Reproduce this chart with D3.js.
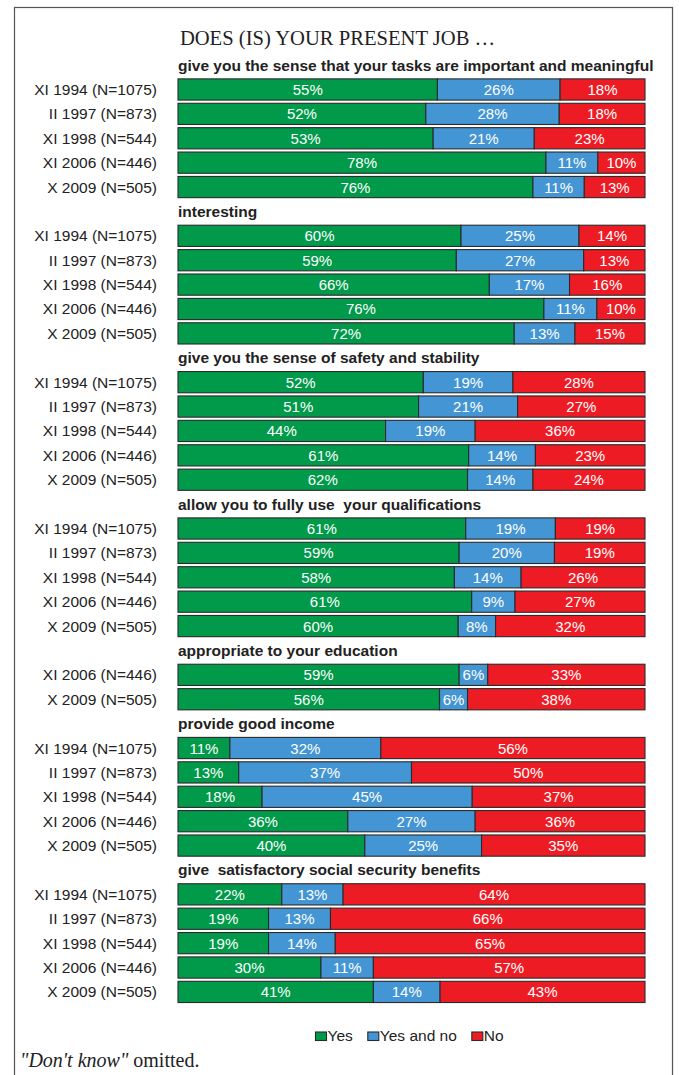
<!DOCTYPE html>
<html>
<head>
<meta charset="utf-8">
<script src="https://cdn.jsdelivr.net/npm/d3@7"></script>
<style>
  html, body { margin: 0; padding: 0; background: #fff; }
  svg { display: block; }
</style>
</head>
<body>
<div id="chart"></div>
<script>
// Survey question wording (one group of bars per question)
const questions = [
  "give you the sense that your tasks are important and meaningful",
  "interesting",
  "give you the sense of safety and stability",
  "allow you to fully use  your qualifications",
  "appropriate to your education",
  "provide good income",
  "give  satisfactory social security benefits"
];

// Survey waves
const waves = ["XI 1994 (N=1075)", "II 1997 (N=873)", "XI 1998 (N=544)", "XI 2006 (N=446)", "X 2009 (N=505)"];

// Which waves asked each question (indices into waves)
const questionWaves = [
  [0, 1, 2, 3, 4],
  [0, 1, 2, 3, 4],
  [0, 1, 2, 3, 4],
  [0, 1, 2, 3, 4],
  [3, 4],
  [0, 1, 2, 3, 4],
  [0, 1, 2, 3, 4]
];

// Answer shares (%), one list per question, in wave order
const yesValues = [
  [55, 52, 53, 78, 76],
  [60, 59, 66, 76, 72],
  [52, 51, 44, 61, 62],
  [61, 59, 58, 61, 60],
  [59, 56],
  [11, 13, 18, 36, 40],
  [22, 19, 19, 30, 41]
];
const yesAndNoValues = [
  [26, 28, 21, 11, 11],
  [25, 27, 17, 11, 13],
  [19, 21, 19, 14, 14],
  [19, 20, 14, 9, 8],
  [6, 6],
  [32, 37, 45, 27, 25],
  [13, 13, 14, 11, 14]
];
const noValues = [
  [18, 18, 23, 10, 13],
  [14, 13, 16, 10, 15],
  [28, 27, 36, 23, 24],
  [19, 19, 26, 27, 32],
  [33, 38],
  [56, 50, 37, 36, 35],
  [64, 66, 65, 57, 43]
];

const answers = ["Yes", "Yes and no", "No"];
const answerColors = ["#009a4a", "#4495d3", "#ed1c24"];

const W = 679, H = 1075;
const barLeft = 178, barRight = 645;
const sans = "'Liberation Sans', Arial, Helvetica, sans-serif";
const serif = "'Liberation Serif', 'Times New Roman', Times, serif";

// Build the vertical slot list: a header slot followed by one slot per wave
const slots = [];
questions.forEach((q, qi) => {
  slots.push({ key: "h" + qi, type: "header", text: q });
  questionWaves[qi].forEach((w, j) => {
    slots.push({
      key: "r" + qi + "_" + w,
      type: "row",
      label: waves[w],
      values: [yesValues[qi][j], yesAndNoValues[qi][j], noValues[qi][j]]
    });
  });
});

const step = 24.39;
const y = d3.scaleBand()
  .domain(slots.map(s => s.key))
  .range([52.9, 52.9 + slots.length * step])
  .paddingInner(0.13)
  .paddingOuter(0.065);

const color = d3.scaleOrdinal().domain(answers).range(answerColors);

const svg = d3.select("#chart").append("svg")
  .attr("width", W).attr("height", H);

// Frame
svg.append("rect")
  .attr("x", 14.5).attr("y", 7.5)
  .attr("width", 658).attr("height", 1080)
  .attr("fill", "none").attr("stroke", "#555").attr("stroke-width", 1.2);

// Title
svg.append("text")
  .attr("x", 337.5).attr("y", 45)
  .attr("text-anchor", "middle")
  .attr("font-family", serif).attr("font-size", 20.6)
  .attr("fill", "#222")
  .text("DOES (IS) YOUR PRESENT JOB \u2026");

// Question headers
svg.selectAll("text.header")
  .data(slots.filter(s => s.type === "header"))
  .join("text")
  .attr("class", "header")
  .attr("x", barLeft)
  .attr("y", d => y(d.key) + y.bandwidth() / 2 + 5.5)
  .attr("font-family", sans).attr("font-size", 15.5).attr("font-weight", "bold")
  .attr("fill", "#222")
  .style("white-space", "pre")
  .text(d => d.text);

const rows = slots.filter(s => s.type === "row");

// Wave labels
svg.selectAll("text.wave")
  .data(rows)
  .join("text")
  .attr("class", "wave")
  .attr("x", 157)
  .attr("y", d => y(d.key) + y.bandwidth() / 2 + 5.5)
  .attr("text-anchor", "end")
  .attr("font-family", sans).attr("font-size", 15.5)
  .attr("fill", "#222")
  .text(d => d.label);

// Stacked bars, each row spanning the full width of its own total
const rowG = svg.selectAll("g.row")
  .data(rows)
  .join("g")
  .attr("class", "row")
  .attr("transform", d => `translate(0,${y(d.key)})`);

rowG.each(function (d) {
  const g = d3.select(this);
  const total = d3.sum(d.values);
  const x = d3.scaleLinear().domain([0, total]).range([barLeft, barRight]);
  const stacked = [];
  let acc = 0;
  d.values.forEach((v, i) => {
    stacked.push({ answer: answers[i], v, x0: acc, x1: acc + v });
    acc += v;
  });
  g.selectAll("rect.seg")
    .data(stacked)
    .join("rect")
    .attr("class", "seg")
    .attr("x", s => x(s.x0))
    .attr("y", 0)
    .attr("width", s => x(s.x1) - x(s.x0))
    .attr("height", y.bandwidth())
    .attr("fill", s => color(s.answer))
    .attr("stroke", "#2a2a2a")
    .attr("stroke-width", 1.1);
  g.selectAll("text.val")
    .data(stacked)
    .join("text")
    .attr("class", "val")
    .attr("x", s => (x(s.x0) + x(s.x1)) / 2)
    .attr("y", y.bandwidth() / 2 + 5.5)
    .attr("text-anchor", "middle")
    .attr("font-family", sans).attr("font-size", 15)
    .attr("fill", "#fff")
    .text(s => s.v + "%");
});

// Legend
const legend = svg.append("g").attr("transform", "translate(315,1032)");
let lx = 0;
answers.forEach((a, i) => {
  legend.append("rect")
    .attr("x", lx + 0.5).attr("y", 0)
    .attr("width", 11).attr("height", 8.5)
    .attr("fill", color(a))
    .attr("stroke", "#2a2a2a").attr("stroke-width", 1.1);
  const t = legend.append("text")
    .attr("x", lx + 12.5).attr("y", 9)
    .attr("font-family", sans).attr("font-size", 15.5)
    .attr("fill", "#222")
    .text(a);
  lx += 12.5 + t.node().getComputedTextLength() + 14.5;
});

// Footnote
const note = svg.append("text")
  .attr("x", 20).attr("y", 1067)
  .attr("font-family", serif).attr("font-size", 20)
  .attr("fill", "#222");
note.append("tspan").attr("font-style", "italic").text("\"Don't know\"");
note.append("tspan").text(" omitted.");
</script>
</body>
</html>
